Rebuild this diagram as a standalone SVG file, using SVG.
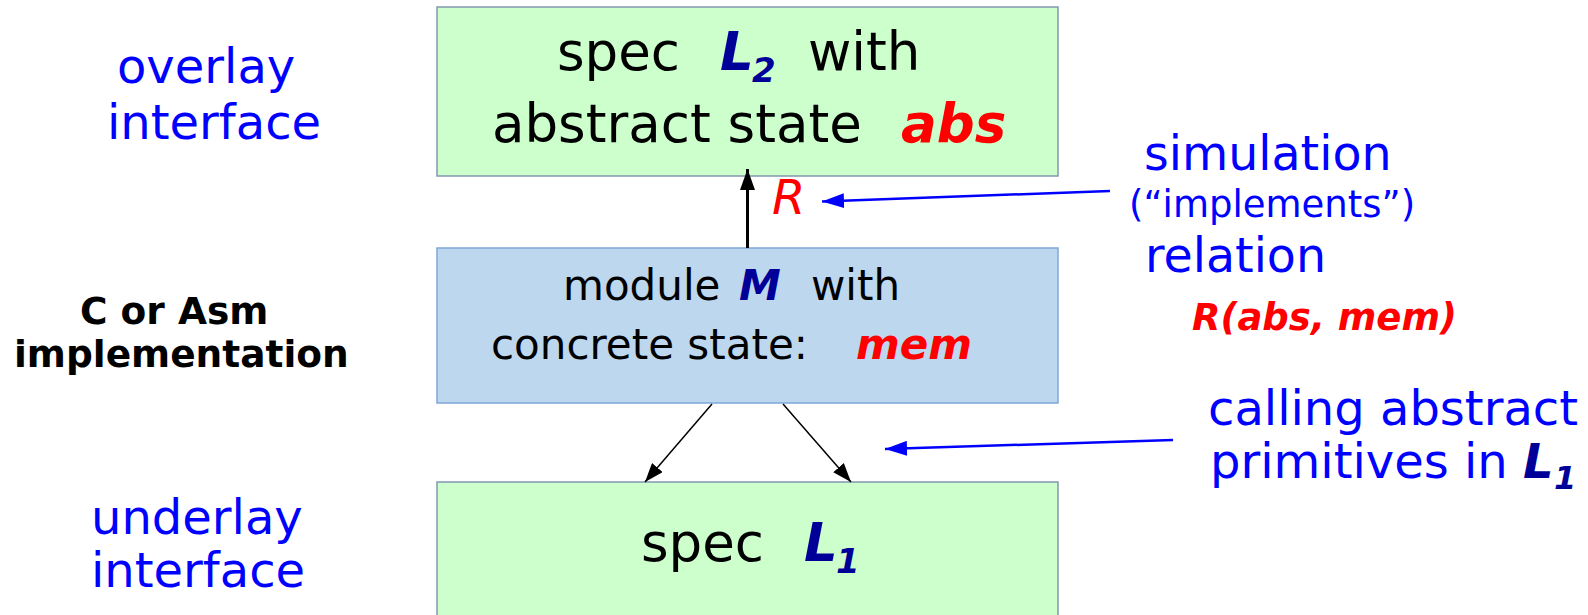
<svg xmlns="http://www.w3.org/2000/svg" width="1588" height="615" viewBox="0 0 1588 615">
  <style>
    text { font-family: "DejaVu Sans", "Noto Sans", sans-serif; }
    .spec { fill: #ccffcc; stroke: #8497b0; stroke-width: 1.5; }
    .module { fill: #bdd7ee; stroke: #7fa8d8; stroke-width: 1.5; }
    .big { font-size: 53px; fill: #000; }
    .mid { font-size: 42px; fill: #000; }
    .name { font-weight: bold; font-style: italic; fill: #000099; }
    .var { font-weight: bold; font-style: italic; fill: #ff0000; }
    .note { fill: #0000ff; }
    .call { stroke: #000; stroke-width: 1.5; fill: none; }
    .refine { stroke: #000; stroke-width: 3; fill: none; }
    .pointer { stroke: #0000ff; stroke-width: 2.5; fill: none; }
  </style>
  <defs>
    <marker id="head-up" markerUnits="userSpaceOnUse" markerWidth="21" markerHeight="15" refX="21" refY="7.5" orient="auto">
      <path d="M0,0 L21,7.5 L0,15 z" fill="#000"/>
    </marker>
    <marker id="head-black" markerUnits="userSpaceOnUse" markerWidth="19" markerHeight="14" refX="19" refY="7" orient="auto">
      <path d="M0,0 L19,7 L0,14 z" fill="#000"/>
    </marker>
    <marker id="head-blue" markerUnits="userSpaceOnUse" markerWidth="22" markerHeight="15" refX="22" refY="7.5" orient="auto">
      <path d="M0,0 L22,7.5 L0,15 z" fill="#0000ff"/>
    </marker>
  </defs>

  <rect width="1588" height="615" fill="#fff"/>

  <!-- left-hand layer labels -->
  <g id="label-overlay">
    <text class="note" font-size="48" x="117" y="83">overlay</text>
    <text class="note" font-size="48" x="107" y="139">interface</text>
  </g>
  <g id="label-impl">
    <text font-size="37.5" font-weight="bold" fill="#000" x="80" y="324">C or Asm</text>
    <text font-size="37.5" font-weight="bold" fill="#000" x="14" y="367">implementation</text>
  </g>
  <g id="label-underlay">
    <text class="note" font-size="48" x="91" y="534">underlay</text>
    <text class="note" font-size="48" x="91" y="587">interface</text>
  </g>

  <!-- overlay specification -->
  <g id="spec-L2">
    <rect class="spec" x="437" y="7" width="621" height="169"/>
    <text class="big" x="557" y="70">spec</text>
    <text class="big name" x="720" y="70">L</text>
    <text class="name" font-size="34" x="752" y="82">2</text>
    <text class="big" x="808" y="70">with</text>
    <text class="big" x="492" y="142">abstract state</text>
    <text class="big var" x="901" y="142">abs</text>
  </g>

  <!-- module implementation -->
  <g id="module-M">
    <rect class="module" x="437" y="248" width="621" height="155"/>
    <text class="mid" x="563" y="300">module</text>
    <text class="mid name" x="739" y="300">M</text>
    <text class="mid" x="811" y="300">with</text>
    <text class="mid" x="491" y="359">concrete state:</text>
    <text class="mid var" x="856" y="359">mem</text>
  </g>

  <!-- underlay specification -->
  <g id="spec-L1">
    <rect class="spec" x="437" y="482" width="621" height="150"/>
    <text class="big" x="641" y="561">spec</text>
    <text class="big name" x="804" y="561">L</text>
    <text class="name" font-size="34" x="836" y="573">1</text>
  </g>

  <!-- relation label on the refinement edge -->
  <g id="label-R">
    <text font-size="48" font-style="italic" fill="#ff0000" x="772" y="214">R</text>
  </g>

  <!-- right-hand annotations -->
  <g id="note-simulation">
    <text class="note" font-size="47.5" x="1144" y="170">simulation</text>
    <text class="note" font-size="37" x="1129" y="217">(“implements”)</text>
    <text class="note" font-size="47.5" x="1145" y="272">relation</text>
    <text class="var" font-size="37" x="1192" y="330">R(abs, mem)</text>
  </g>
  <g id="note-calling">
    <text class="note" font-size="48" x="1208" y="425">calling abstract</text>
    <text class="note" font-size="48" x="1210" y="478">primitives in <tspan class="name">L</tspan></text>
    <text class="name" font-size="32" x="1554" y="489">1</text>
  </g>

  <!-- connectors -->
  <g id="connectors">
    <line class="refine" x1="747.5" y1="248" x2="747.5" y2="169" marker-end="url(#head-up)"/>
    <line class="call" x1="712" y1="404" x2="645" y2="482" marker-end="url(#head-black)"/>
    <line class="call" x1="783" y1="404" x2="851" y2="482" marker-end="url(#head-black)"/>
    <line class="pointer" x1="1110" y1="191" x2="822" y2="201.5" marker-end="url(#head-blue)"/>
    <line class="pointer" x1="1173" y1="440" x2="885" y2="449" marker-end="url(#head-blue)"/>
  </g>
</svg>
